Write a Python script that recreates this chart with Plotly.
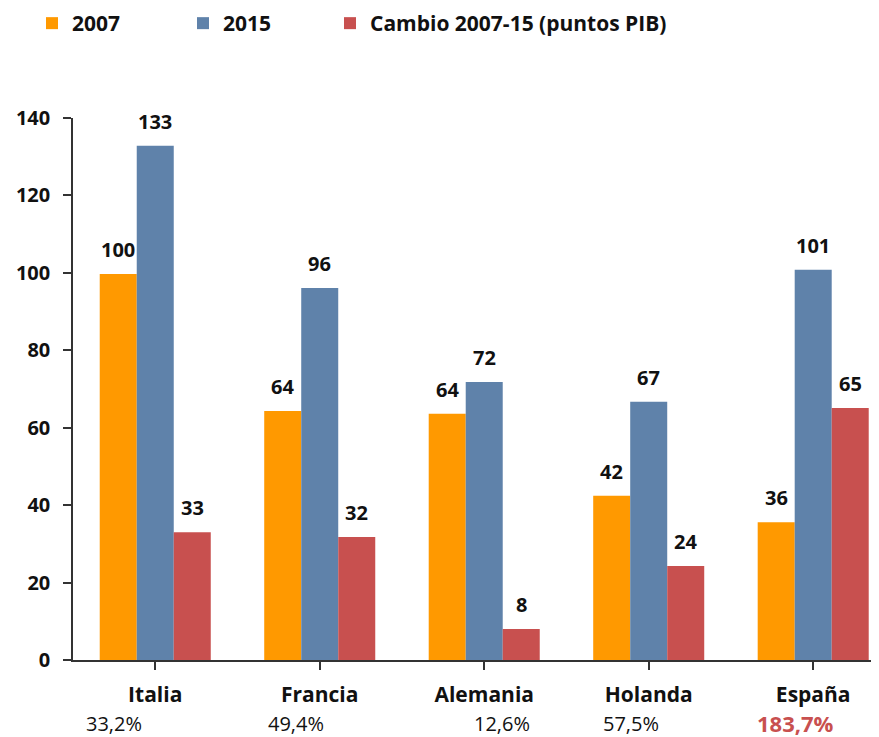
import plotly.graph_objects as go

countries = ["Italia", "Francia", "Alemania", "Holanda", "España"]
v2007 = [99.7, 64.3, 63.6, 42.4, 35.6]
v2015 = [132.8, 96.1, 71.8, 66.7, 100.8]
cambio = [33.0, 31.8, 8.0, 24.3, 65.1]
pct_labels = ["33,2%", "49,4%", "12,6%", "57,5%", "183,7%"]
pct_offsets = [-0.25, -0.146, 0.11, -0.106, -0.106]
series_names = ["2007", "2015", "Cambio 2007-15 (puntos PIB)"]
colors = ["#FF9900", "#5F82AA", "#C8504F"]
yticks = [0, 20, 40, 60, 80, 100, 120, 140]

FONT = "Open Sans"
W, H = 871, 729  # page body has an 8px margin inside the 879x737 window
series = [v2007, v2015, cambio]
xs = list(range(len(countries)))
bargap = 0.325
bw = (1 - bargap) / 3

legend_ids = ["legend", "legend2", "legend3"]
legend_x = [24, 175, 322]

fig = go.Figure()
for name, vals, col, lid in zip(series_names, series, colors, legend_ids):
    fig.add_trace(go.Bar(x=xs, y=vals, name=name, legend=lid,
                         marker=dict(color=col, line_width=0)))

annotations = []
for k, vals in enumerate(series):
    off = (k - 1) * bw
    for i, v in enumerate(vals):
        annotations.append(dict(x=i + off, y=v, xref="x", yref="y", text=f"{round(v):d}",
                                showarrow=False, yanchor="bottom", yshift=9,
                                font=dict(family=FONT, size=20, color="#111111", weight="bold")))
for i, (t, o) in enumerate(zip(pct_labels, pct_offsets)):
    last = i == len(countries) - 1
    annotations.append(dict(x=i + o, y=-0.117, xref="x", yref="paper",
                            text=t, showarrow=False, yanchor="middle",
                            font=dict(family=FONT, size=22 if last else 20,
                                      color="#C8504F" if last else "#111111",
                                      weight="bold" if last else "normal")))

legend_font = dict(family=FONT, size=21, color="#111111", weight="bold")
layout_legends = {}
for lid, lx in zip(legend_ids, legend_x):
    layout_legends[lid] = dict(orientation="h", x=lx / W, y=1 - 15.5 / H,
                               xref="container", yref="container",
                               xanchor="left", yanchor="middle",
                               font=legend_font, bgcolor="rgba(0,0,0,0)")

fig.update_layout(
    width=W, height=H,
    margin=dict(l=65, r=0, t=110, b=77, autoexpand=False),
    paper_bgcolor="white", plot_bgcolor="white",
    barmode="group", bargap=bargap, bargroupgap=0,
    font=dict(family=FONT, size=20, color="#111111"),
    annotations=annotations,
    showlegend=True,
    **layout_legends,
)
fig.update_xaxes(range=[-0.5, 4.4], tickmode="array", tickvals=xs, ticktext=countries,
                 tickson="boundaries", ticks="outside", ticklen=8, tickcolor="#333333",
                 tickwidth=1.5,
                 showline=True, linecolor="#333333", linewidth=1.5, showgrid=False,
                 ticklabelstandoff=7,
                 tickfont=dict(family=FONT, size=21, color="#111111", weight="bold"))
fig.update_yaxes(range=[0, 140], tickvals=yticks, ticks="outside", ticklen=8,
                 tickcolor="#333333", tickwidth=1.5, showline=True, linecolor="#333333",
                 linewidth=1.5, showgrid=False, zeroline=False, ticklabelstandoff=9,
                 tickfont=dict(family=FONT, size=20, color="#111111", weight="bold"))

fig.write_html("out.html")
